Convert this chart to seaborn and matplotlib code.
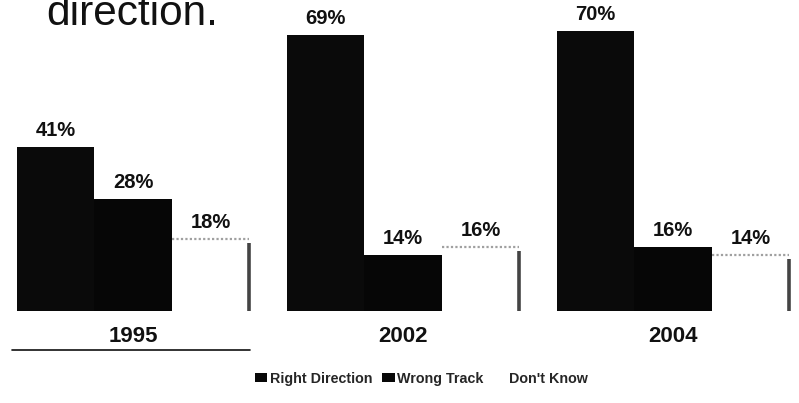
import matplotlib
matplotlib.use("Agg")
import matplotlib.pyplot as plt
import matplotlib.patches as mpatches
from matplotlib.lines import Line2D
import pandas as pd
import seaborn as sns

years = ["1995", "2002", "2004"]
responses = ["Right Direction", "Wrong Track", "Don't Know"]
right_direction = [41, 69, 70]
wrong_track = [28, 14, 16]
dont_know = [18, 16, 14]

df = pd.DataFrame({
    "year": years * 3,
    "response": [responses[0]] * 3 + [responses[1]] * 3 + [responses[2]] * 3,
    "pct": right_direction + wrong_track + dont_know,
})

sns.set_theme(style="white")
plt.rcParams["font.family"] = ["Liberation Sans", "DejaVu Sans"]

W, H = 799, 403
fig = plt.figure(figsize=(W / 100, H / 100), dpi=100)
fig.patch.set_facecolor("white")

# axes: baseline at 311 px from the top, 4 px per percentage point
ax = fig.add_axes([0, (H - 311) / H, 1, 300 / H])
ax.set_facecolor("white")

palette = {responses[0]: "#0a0a0a", responses[1]: "#060606", responses[2]: "white"}
sns.barplot(data=df, x="year", y="pct", hue="response", order=years,
            hue_order=responses, palette=palette, width=0.862, dodge=True,
            saturation=1, linewidth=0, legend=False, ax=ax)

ax.set_ylim(0, 75)
ax.set_xlim(-133 / 270, (W - 133) / 270)
for s in ax.spines.values():
    s.set_visible(False)
ax.set_yticks([])
ax.set_xlabel("")
ax.set_ylabel("")
ax.tick_params(axis="x", length=0, pad=11)
for lbl in ax.get_xticklabels():
    lbl.set_fontsize(16)
    lbl.set_fontweight("bold")
    lbl.set_color("#111111")

# "Don't Know" bars: open box with dotted top edge and a dark right edge
for bar in ax.containers[2]:
    x0 = bar.get_x()
    x1 = x0 + bar.get_width()
    h = bar.get_height()
    ax.plot([x0, x1], [h, h], color="#a0a0a0", lw=1.6, ls=(0, (1, 1)),
            solid_capstyle="butt")
    ax.plot([x1, x1], [0, h - 1], color="#444444", lw=2.6, solid_capstyle="butt")

# value labels above each bar
for cont in ax.containers:
    for bar in cont:
        h = bar.get_height()
        ax.annotate(f"{h:.0f}%", (bar.get_x() + bar.get_width() / 2, h),
                    xytext=(0, 5), textcoords="offset points", ha="center",
                    va="bottom", fontsize=14.5, fontweight="bold", color="#111111")

# rule under the first group label
fig.add_artist(Line2D([12 / W, 250 / W], [(H - 350) / H, (H - 350) / H],
                      color="#111111", lw=1.2))

# slide title, partially cut by the top edge
fig.text(46 / W, (H - 25) / H, "direction.", fontsize=30.5, color="#111111",
         ha="left", va="baseline")

handles = [mpatches.Patch(facecolor="#080808", edgecolor="none"),
           mpatches.Patch(facecolor="#080808", edgecolor="none"),
           mpatches.Patch(facecolor="white", edgecolor="none")]
fig.legend(handles, responses, loc="center", bbox_to_anchor=(421 / W, (H - 379) / H),
           ncol=3, frameon=False, handlelength=0.9, handleheight=0.6,
           handletextpad=0.15, columnspacing=0.7,
           prop={"size": 10.3, "weight": "bold"})

fig.savefig("out.png", dpi=100, facecolor="white")
